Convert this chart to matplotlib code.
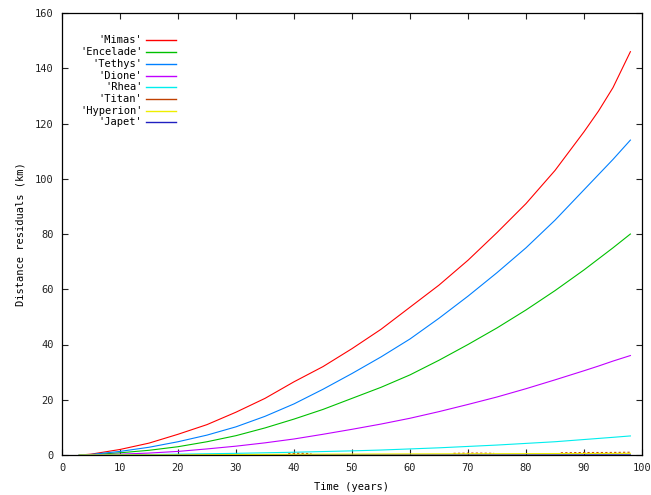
import numpy as np
import matplotlib.pyplot as plt
from matplotlib.lines import Line2D

years = [3, 5, 10, 15, 20, 25, 30, 35, 40, 45, 50, 55, 60, 65, 70, 75, 80, 85, 90, 92.5,
         95, 98]

mimas = [0, 0.3, 2, 4.3, 7.5, 11, 15.5, 20.5, 26.5, 32, 38.5, 45.5, 53.5, 61.5, 70.5,
         80.5, 91, 103, 117, 124.5, 133, 146]
encelade = [0, 0.1, 0.8, 1.7, 3, 4.8, 7, 9.8, 13, 16.5, 20.5, 24.5, 29, 34.3, 40,
            46, 52.5, 59.5, 67, 71, 75, 80]
tethys = [0, 0.2, 1.3, 2.8, 4.8, 7.2, 10.2, 14, 18.5, 23.8, 29.5, 35.5, 42, 49.5, 57.5,
          66, 75, 85, 96, 101.5, 107, 114]
dione = [0, 0.05, 0.3, 0.7, 1.3, 2.2, 3.2, 4.4, 5.8, 7.5, 9.3, 11.2, 13.3, 15.7, 18.3,
         21, 24, 27.2, 30.5, 32.2, 34, 36]
rhea = [0, 0, 0.05, 0.15, 0.3, 0.45, 0.6, 0.8, 1.0, 1.25, 1.5, 1.8, 2.2, 2.6, 3.1,
        3.6, 4.2, 4.8, 5.6, 6.0, 6.4, 6.9]

titan_t = [39, 41, 43, np.nan, 67.5, 71, 74.5, np.nan, 86, 90, 94, 98]
titan = [0.5, 0.6, 0.5, np.nan, 0.6, 0.7, 0.6, np.nan, 0.8, 0.9, 0.9, 1.0]

hyperion_t = [3, 20, 43, 60, 80, 98]
hyperion = [0, 0.05, 0.3, 0.4, 0.5, 0.6]

japet_t = [3, 98]
japet = [0, 0.05]

names = ["'Mimas'", "'Encelade'", "'Tethys'", "'Dione'", "'Rhea'", "'Titan'",
         "'Hyperion'", "'Japet'"]
colors = ['#ff0000', '#00c000', '#0080ff', '#c000ff', '#00eeee', '#c04000',
          '#eeee00', '#2020c0']

plt.rcParams['font.family'] = 'DejaVu Sans Mono'
fig = plt.figure(figsize=(6.51, 4.95), dpi=100)
ax = fig.add_axes([62 / 651, 40 / 495, 580 / 651, 442 / 495])

lw = 0.8
ax.plot(japet_t, japet, color=colors[7], lw=lw)
ax.plot(years, mimas, color=colors[0], lw=lw)
ax.plot(years, encelade, color=colors[1], lw=lw)
ax.plot(years, tethys, color=colors[2], lw=lw)
ax.plot(years, dione, color=colors[3], lw=lw)
ax.plot(years, rhea, color=colors[4], lw=lw)
ax.plot(titan_t, titan, color=colors[5], lw=lw, dashes=(2, 2))
ax.plot(hyperion_t, hyperion, color=colors[6], lw=lw)

ax.set_xlim(0, 100)
ax.set_ylim(0, 160)
ax.set_xticks(range(0, 101, 10))
ax.set_yticks(range(0, 161, 20))
ax.tick_params(direction='in', top=True, right=True, length=4, width=0.8,
               labelsize=7.5, pad=6, colors='#222222')
for s in ax.spines.values():
    s.set_linewidth(0.9)
ax.set_xlabel('Time (years)', fontsize=7.5, labelpad=6)
ax.set_ylabel('Distance residuals (km)', fontsize=7.5, labelpad=7)

# gnuplot-style key, text right-aligned, sample to the right
for i, (name, c) in enumerate(zip(names, colors)):
    yk = 0.938 - i * 0.0265
    ax.text(0.139, yk, name, transform=ax.transAxes, ha='right', va='center',
            fontsize=7.5)
    ax.add_line(Line2D([0.145, 0.197], [yk, yk], transform=ax.transAxes,
                       color=c, lw=1.0))

fig.savefig('out.png', dpi=100)
